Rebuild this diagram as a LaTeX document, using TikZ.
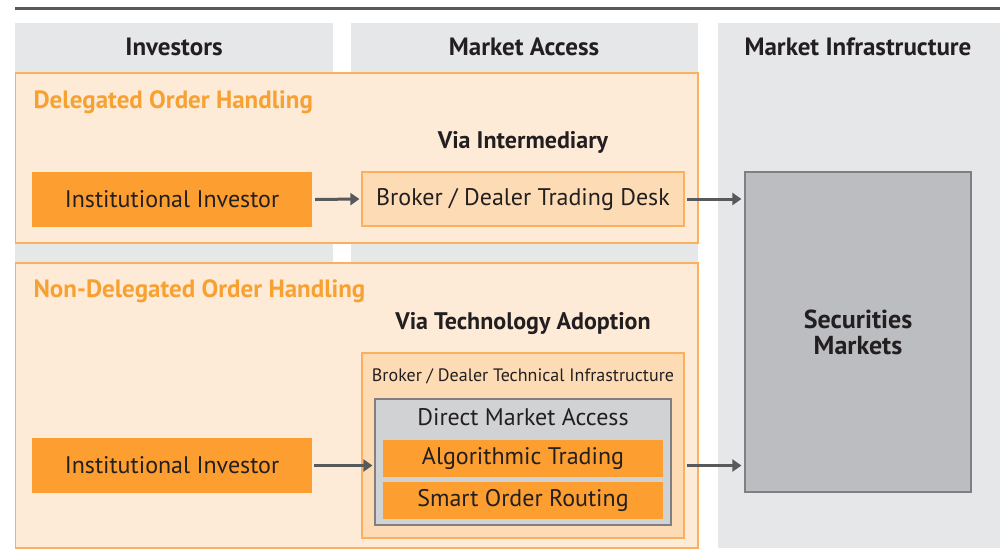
\documentclass[tikz,border=0pt]{standalone}
\usepackage{fontspec}
\setmainfont{PT Sans}
\usetikzlibrary{arrows.meta}
\definecolor{hdrgray}{RGB}{230,231,232}
\definecolor{peach}{RGB}{253,235,215}
\definecolor{peachmid}{RGB}{253,220,181}
\definecolor{orangeline}{RGB}{251,176,96}
\definecolor{orangefill}{RGB}{253,158,48}
\definecolor{orangetext}{RGB}{247,161,51}
\definecolor{inktext}{RGB}{35,31,32}
\definecolor{marketgray}{RGB}{188,189,192}
\definecolor{dmagray}{RGB}{209,210,212}
\definecolor{edgegray}{RGB}{128,128,130}
\definecolor{arrowgray}{RGB}{88,89,91}
\tikzset{
  colhead/.style={fill=hdrgray, draw=none},
  group/.style={fill=peach, draw=orangeline, line width=1.2pt},
  investor/.style={fill=orangefill, draw=none, text=inktext, font=\fontsize{24}{28}\selectfont},
  desk/.style={fill=peachmid, draw=orangeline, line width=1.2pt},
  dmabox/.style={fill=dmagray, draw=edgegray, line width=1.2pt},
  algobox/.style={fill=orangefill, draw=none},
  mktbox/.style={fill=marketgray, draw=edgegray, line width=1.2pt},
  headtxt/.style={text=inktext, font=\bfseries\fontsize{25}{29}\selectfont},
  grouptxt/.style={text=orangetext, font=\bfseries\fontsize{25}{29}\selectfont, anchor=west},
  subtxt/.style={text=inktext, font=\bfseries\fontsize{24}{28}\selectfont},
  boxtxt/.style={text=inktext, font=\fontsize{24}{28}\selectfont},
  flow/.style={draw=arrowgray, line width=3pt, -{Triangle[length=9pt,width=12pt]}},
}
\begin{document}
\begin{tikzpicture}[x=1pt,y=-1pt]
\useasboundingbox (0,0) rectangle (1000,554);
% rule across the top
\draw[arrowgray, line width=3pt] (15,8.5) -- (1000,8.5);
% column backgrounds
\fill[colhead] (15,23) rectangle (333,548);
\fill[colhead] (351,23) rectangle (698,548);
\fill[colhead] (718,23) rectangle (1000,548);
\node[headtxt] (hInv) at (174,47) {Investors};
\node[headtxt] (hAcc) at (524,47) {Market Access};
\node[headtxt] (hInf) at (858,47) {Market Infrastructure};
% order handling groups
\draw[group] (15.6,73) rectangle (698,243);
\draw[group] (15.6,263) rectangle (698,548);
\node[grouptxt] (gDel) at (30,102) {Delegated Order Handling};
\node[grouptxt] (gNon) at (30,291) {Non-Delegated Order Handling};
\node[subtxt] (viaInt) at (523,142) {Via Intermediary};
\node[subtxt] (viaTech) at (523,324) {Via Technology Adoption};
% delegated route
\node[investor, minimum width=280pt, minimum height=55pt] (inv1) at (172,199.5) {Institutional Investor};
\node[desk, boxtxt, minimum width=322pt, minimum height=54pt] (desk) at (523,199) {Broker / Dealer Trading Desk};
% securities markets
\node[mktbox, minimum width=226pt, minimum height=320pt, align=center, text=inktext, font=\bfseries\fontsize{26}{26}\selectfont] (mkt) at (858,332) {Securities\\Markets};
% non-delegated route
\node[investor, minimum width=280pt, minimum height=55pt] (inv2) at (172,465.5) {Institutional Investor};
\node[desk, minimum width=322pt, minimum height=185pt] (tech) at (523,445.5) {};
\node[text=inktext, font=\fontsize{18}{21}\selectfont] (techLbl) at (523,376) {Broker / Dealer Technical Infrastructure};
\node[dmabox, minimum width=296pt, minimum height=126pt] (dma) at (523,462) {};
\node[boxtxt] (dmaLbl) at (523,417) {Direct Market Access};
\node[algobox, boxtxt, minimum width=280pt, minimum height=37pt] (algo) at (523,458.5) {Algorithmic Trading};
\node[algobox, boxtxt, minimum width=280pt, minimum height=37pt] (sor) at (523,500.5) {Smart Order Routing};
% order flow
\draw[flow] ([xshift=3pt]inv1.east) -- ([xshift=-2pt]desk.west);
\draw[flow] ([xshift=2pt]desk.east) -- ([xshift=-3pt]mkt.west |- desk.east);
\draw[flow] ([xshift=2pt]inv2.east) -- ([xshift=-2pt]dma.west |- inv2.east);
\draw[flow] ([xshift=2pt]tech.east |- inv2.east) -- ([xshift=-3pt]mkt.west |- inv2.east);
\end{tikzpicture}
\end{document}
